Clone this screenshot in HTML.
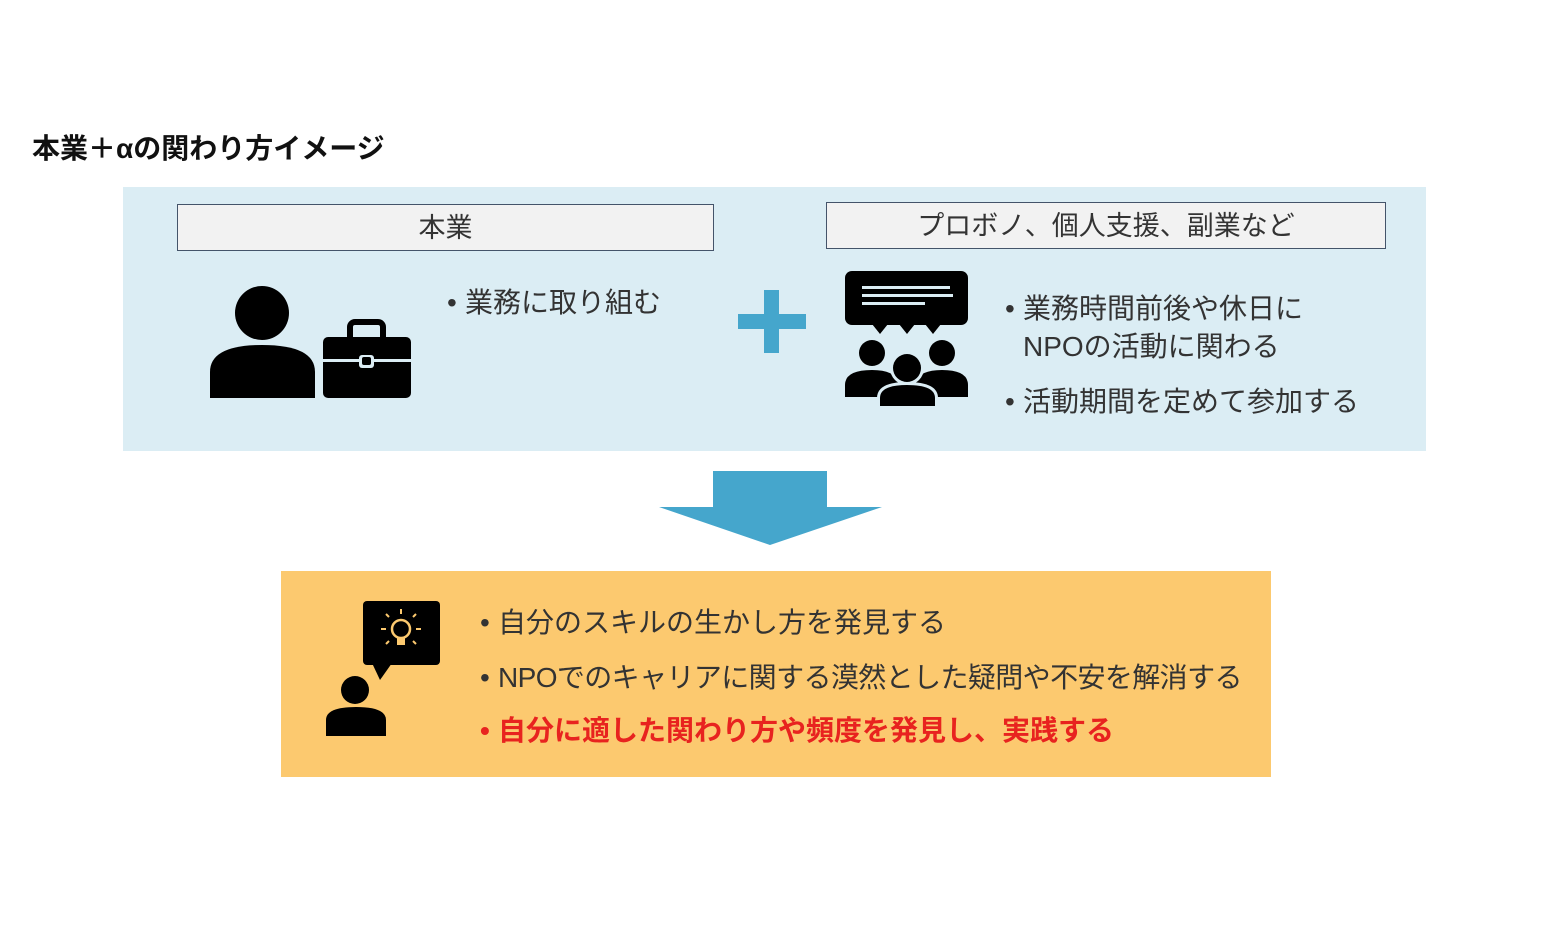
<!DOCTYPE html>
<html><head><meta charset="utf-8"><style>
body{margin:0;width:1552px;height:944px;background:#fff;position:relative;overflow:hidden;font-family:"Liberation Sans","Noto Sans CJK JP",sans-serif;}
.a{position:absolute;white-space:nowrap;line-height:1;}
.t{font-size:28px;color:#333;}
.b{display:inline-block;width:18px;}
</style></head><body>
<div class="a" style="left:32px;top:135px;font-size:28px;font-weight:bold;color:#111;">本業＋αの関わり方イメージ</div>
<div class="a" style="left:123px;top:187px;width:1303px;height:264px;background:#dbedf4;"></div>
<div class="a" style="left:177px;top:204px;width:535px;height:45px;background:#f2f2f2;border:1.5px solid #44546a;font-size:27px;color:#333;text-align:center;line-height:47px;">本業</div>
<div class="a" style="left:826px;top:202px;width:558px;height:45px;background:#f2f2f2;border:1.5px solid #44546a;font-size:27px;color:#333;text-align:center;line-height:47px;">プロボノ、個人支援、副業など</div>
<div class="a t" style="left:447px;top:289px;"><span class="b">•</span>業務に取り組む</div>
<div class="a t" style="left:1005px;top:295px;"><span class="b">•</span>業務時間前後や休日に</div>
<div class="a t" style="left:1023px;top:333px;">NPOの活動に関わる</div>
<div class="a t" style="left:1005px;top:388px;"><span class="b">•</span>活動期間を定めて参加する</div>
<div class="a" style="left:281px;top:571px;width:990px;height:206px;background:#fcc96f;"></div>
<div class="a t" style="left:480px;top:609px;"><span class="b">•</span>自分のスキルの生かし方を発見する</div>
<div class="a t" style="left:480px;top:664px;letter-spacing:-0.6px;"><span class="b">•</span>NPOでのキャリアに関する漠然とした疑問や不安を解消する</div>
<div class="a t" style="left:480px;top:717px;color:#e8231f;font-weight:bold;"><span class="b">•</span>自分に適した関わり方や頻度を発見し、実践する</div>
<svg class="a" style="left:0;top:0" width="1552" height="944">
<rect x="738" y="314" width="68" height="15" fill="#45a6cc"/>
<rect x="764" y="290" width="15" height="63" fill="#45a6cc"/>
<polygon points="713,471 827,471 827,507 882,507 770,545 659,507 713,507" fill="#45a6cc"/>
<circle cx="262" cy="313" r="27"/>
<path d="M210,398 V372 Q210,345 262,345 Q315,345 315,372 V398 Z"/>
<rect x="350" y="322" width="33" height="20" rx="5" fill="none" stroke="#000" stroke-width="6"/>
<rect x="323" y="337" width="88" height="61" rx="5"/>
<rect x="323" y="359" width="88" height="3" fill="#dbedf4"/>
<rect x="359" y="355" width="15" height="13" rx="3" fill="#dbedf4"/>
<rect x="362" y="357" width="9" height="8" rx="2"/>
<rect x="845" y="271" width="123" height="54" rx="7"/>
<polygon points="872,324 888,324 880,334"/><polygon points="899,324 915,324 907,334"/><polygon points="925,324 941,324 933,334"/>
<rect x="862" y="286" width="88" height="3" fill="#dbedf4"/>
<rect x="862" y="294" width="91" height="3" fill="#dbedf4"/>
<rect x="862" y="302" width="63" height="3" fill="#dbedf4"/>
<circle cx="872" cy="353" r="13"/><circle cx="942" cy="353" r="13"/>
<path d="M845,397 V385 Q845,370 872,370 Q897,370 899,385 V397 Z"/>
<path d="M915,397 V385 Q917,370 942,370 Q968,370 968,385 V397 Z"/>
<circle cx="907" cy="368" r="17" fill="#dbedf4"/><circle cx="907" cy="368" r="14"/>
<path d="M877,408 V398 Q877,382 907,382 Q938,382 938,398 V408 Z" fill="#dbedf4"/>
<path d="M880,406 V398 Q880,385 907,385 Q935,385 935,398 V406 Z"/>
<rect x="363" y="601" width="77" height="64" rx="4"/>
<polygon points="372,663 392,663 380,680"/>
<circle cx="401" cy="629" r="9" fill="none" stroke="#fcc96f" stroke-width="2.5"/>
<rect x="397" y="638" width="8" height="7" fill="#fcc96f"/>
<g stroke="#fcc96f" stroke-width="2"><line x1="401" y1="609" x2="401" y2="614"/><line x1="386" y1="629" x2="381" y2="629"/><line x1="416" y1="629" x2="421" y2="629"/><line x1="389" y1="617" x2="386" y2="614"/><line x1="413" y1="617" x2="416" y2="614"/><line x1="389" y1="641" x2="386" y2="644"/><line x1="413" y1="641" x2="416" y2="644"/></g>
<circle cx="355" cy="690" r="14"/>
<path d="M326,736 V720 Q326,707 356,707 Q386,707 386,720 V736 Z"/>
</svg>
</body></html>
